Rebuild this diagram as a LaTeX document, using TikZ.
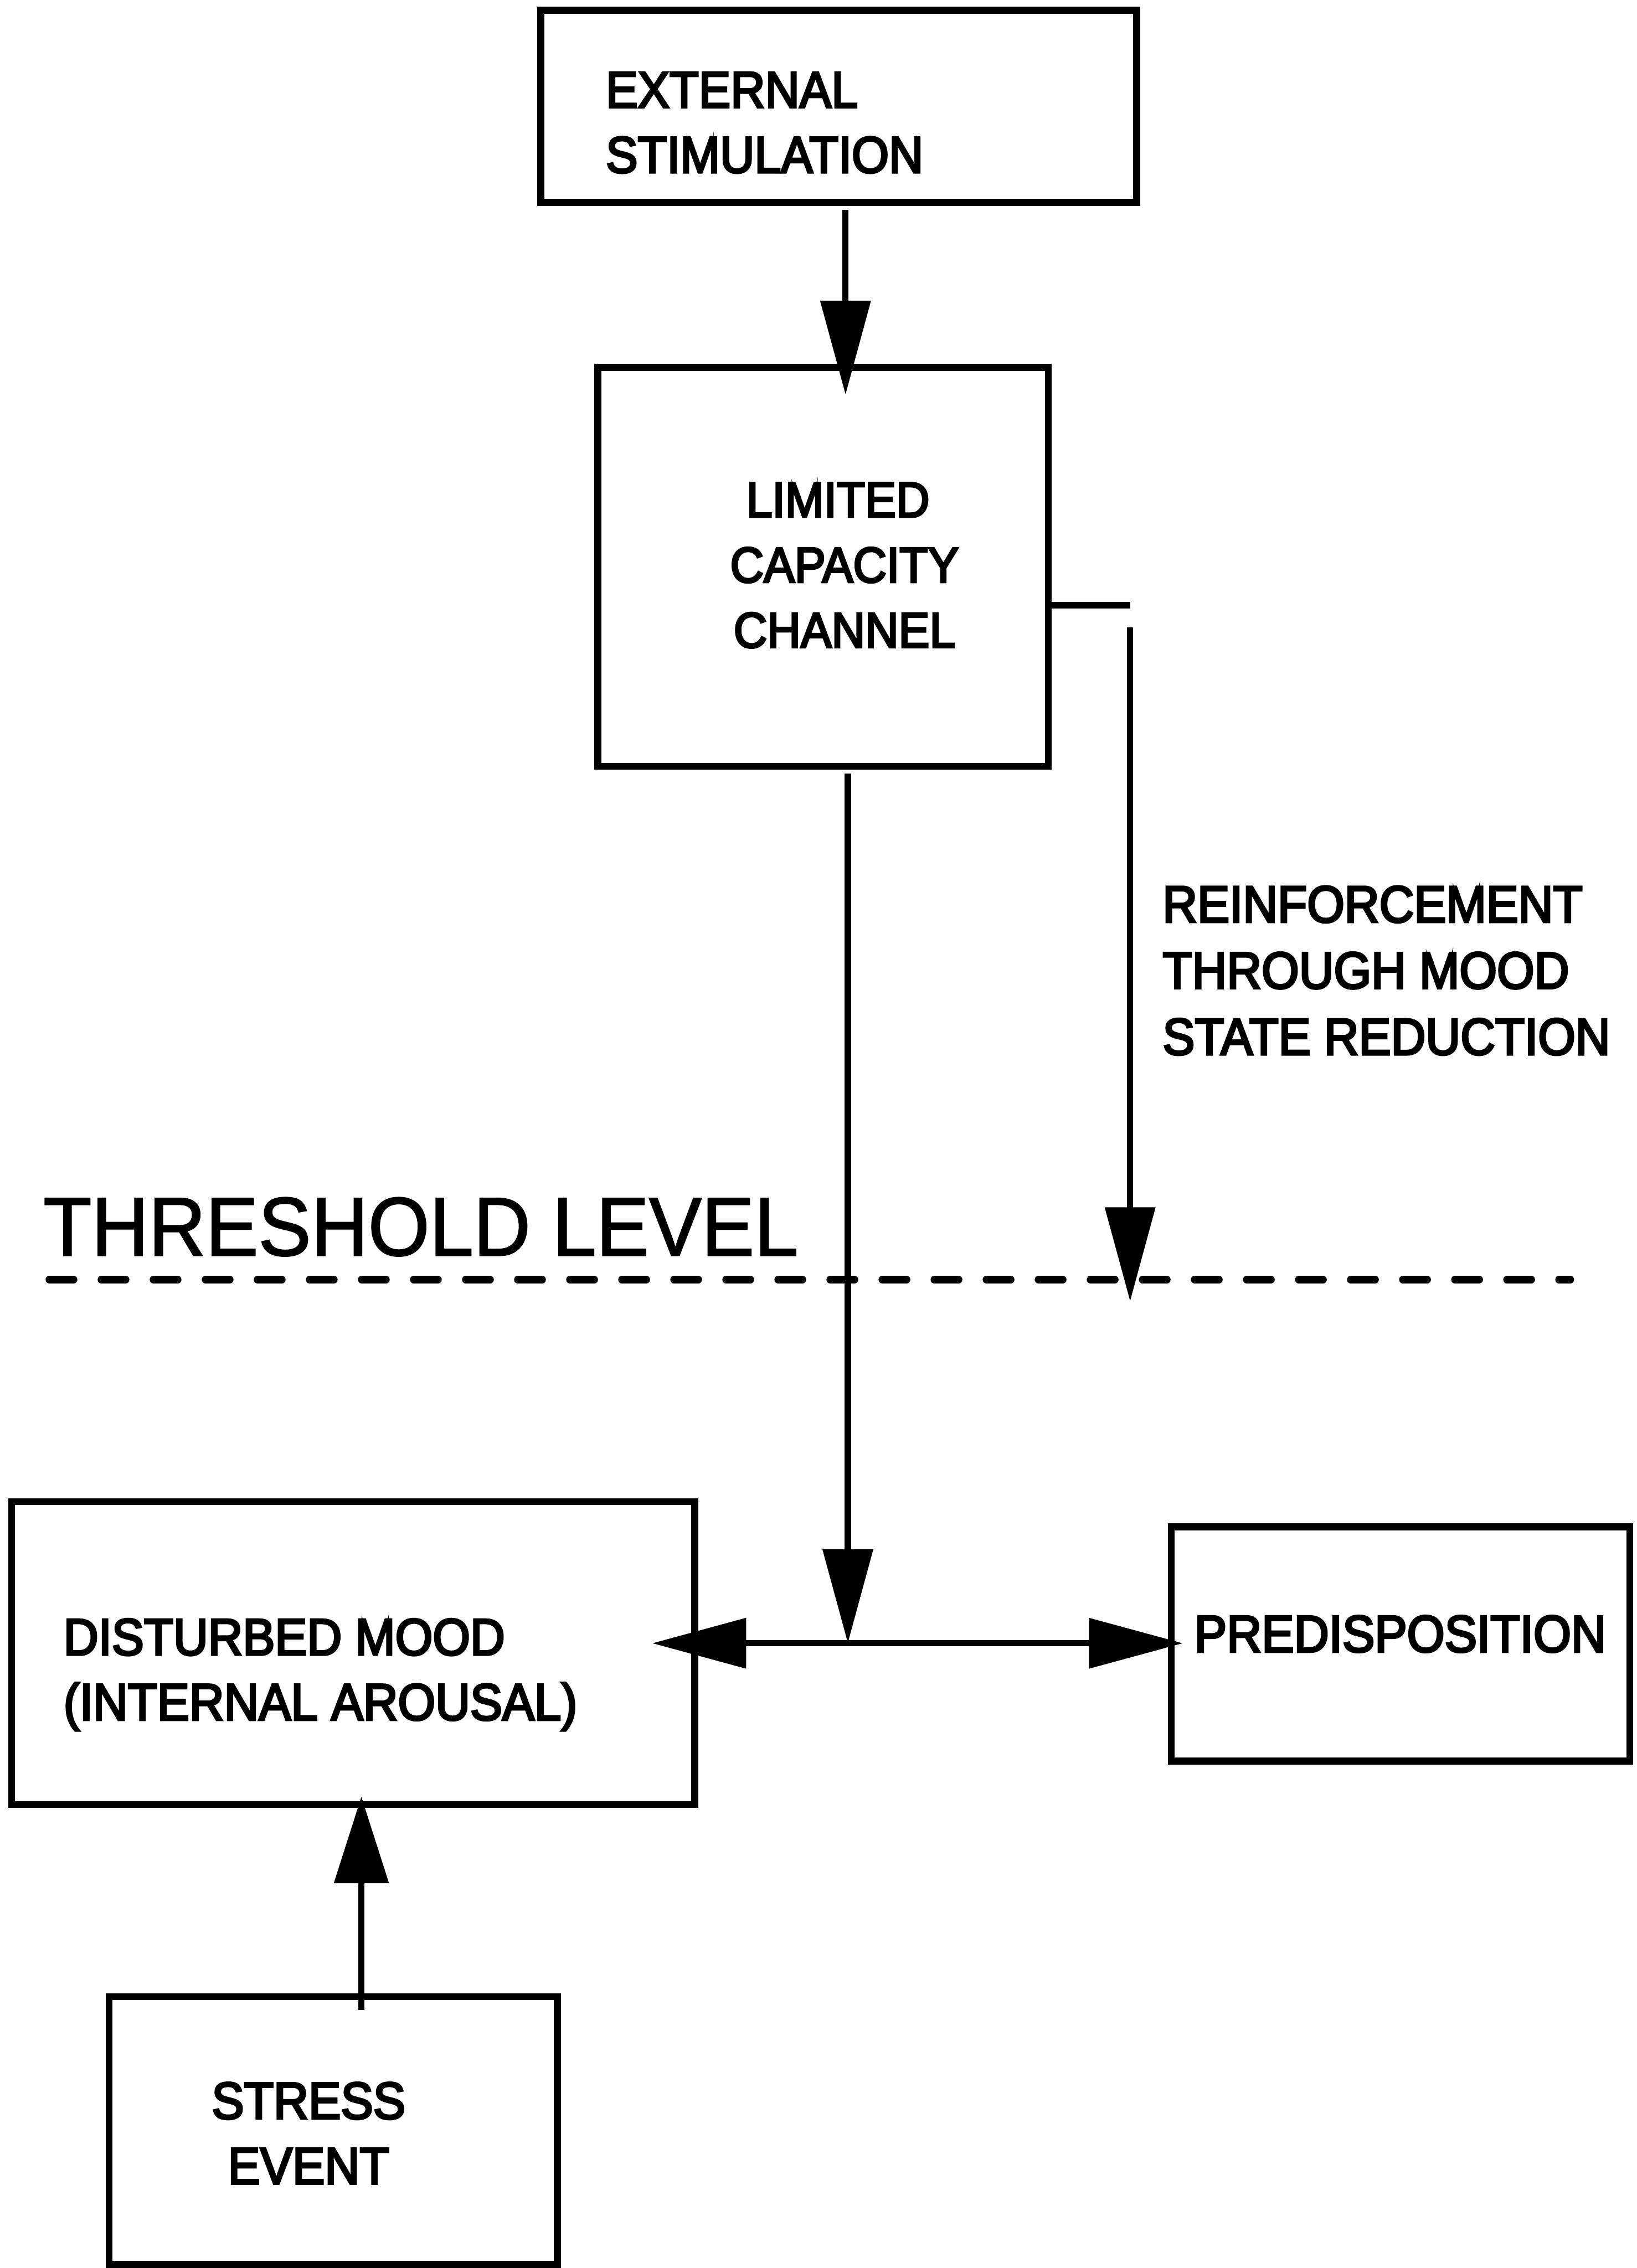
\documentclass[tikz,border=0pt]{standalone}
\usepackage{fontspec}
\setmainfont{Liberation Sans}[FakeStretch=0.93,FakeBold=4]
\newfontfamily\threshfont{Liberation Sans}[FakeStretch=0.95,FakeBold=1.5]
\usetikzlibrary{arrows.meta}
\tikzset{
  box/.style={draw, line width=4.8pt, inner sep=0pt, outer sep=0pt},
  lbl/.style={inner sep=0pt, outer sep=0pt, font=\fontsize{35.5pt}{45pt}\selectfont, align=left},
  arr/.style={line width=4.3pt, -{Triangle[length=65pt,width=34pt]}},
  link/.style={line width=4.3pt},
  thresh/.style={line width=5pt, line cap=round, dash pattern=on 17pt off 19pt},
}
\begin{document}
\begin{tikzpicture}[x=1pt,y=-1pt]
\useasboundingbox (0,0) rectangle (1132,1568.6);
% boxes
\node[box, minimum width=412pt, minimum height=133pt] (ext) at (580,73.5) {};
\node[box, minimum width=311.5pt, minimum height=276pt] (lcc) at (569.25,392) {};
\node[box, minimum width=472.5pt, minimum height=209.5pt] (dm) at (244.25,1143.25) {};
\node[box, minimum width=317pt, minimum height=162pt] (pred) at (968.5,1137) {};
\node[box, minimum width=310pt, minimum height=185pt] (stress) at (230.5,1473.5) {};
% texts (base anchor = baseline of the last line)
\node[lbl, anchor=base west] (extT) at (419,119.4) {EXTERNAL\\STIMULATION};
\node[lbl, align=center, anchor=base, font=\fontsize{34.5pt}{45.1pt}\selectfont] (lccT) at (584,447.8) {LIMITED\hspace*{9pt}\\CAPACITY\\CHANNEL};
\node[lbl, anchor=base west, font=\fontsize{35.8pt}{45.8pt}\selectfont] (reinT) at (804,729.4) {REINFORCEMENT\\THROUGH MOOD\\STATE REDUCTION};
\node[lbl, anchor=base west, font=\threshfont\fontsize{57.5pt}{60pt}\selectfont] (thrT) at (30,868.3) {THRESHOLD LEVEL};
\node[lbl, anchor=base west, font=\fontsize{35.8pt}{45pt}\selectfont] (dmT) at (44,1189.6) {DISTURBED MOOD\\(INTERNAL AROUSAL)};
\node[lbl, anchor=base west, font=\fontsize{36pt}{45pt}\selectfont] (predT) at (826,1142.5) {PREDISPOSITION};
\node[lbl, align=center, anchor=base, font=\fontsize{36pt}{45pt}\selectfont] (stressT) at (213.4,1510.4) {STRESS\\EVENT};
% helper coordinates
\coordinate (xa) at (584.7,0);
\coordinate (rc) at (781.5,418.6);
\coordinate (rtop) at (781.5,434);
\coordinate (rend) at (781.5,900);
\coordinate (j) at (586.3,1136.5);
\coordinate (xs) at (249.9,0);
\coordinate (d1) at (34,885);
\coordinate (d2) at (1086,885);
% threshold line
\draw[thresh] (d1) -- (d2);
% connectors
\draw[arr, shorten <=5pt, shorten >=-19pt] (ext.south -| xa) -- (lcc.north -| xa);
\draw[link] (lcc.east |- rc) -- (rc);
\draw[arr] (rtop) -- (rend);
\draw[arr, shorten <=5pt] (lcc.south -| j) -- (j);
\draw[arr, shorten >=-29.5pt] (j) -- (j -| dm.east);
\draw[arr, shorten >=-8pt] (j) -- (j -| pred.west);
\draw[line width=4.3pt, -{Triangle[length=60pt,width=37pt]}, shorten <=-9pt, shorten >=-5.5pt] (stress.north -| xs) -- (dm.south -| xs);
\end{tikzpicture}
\end{document}
